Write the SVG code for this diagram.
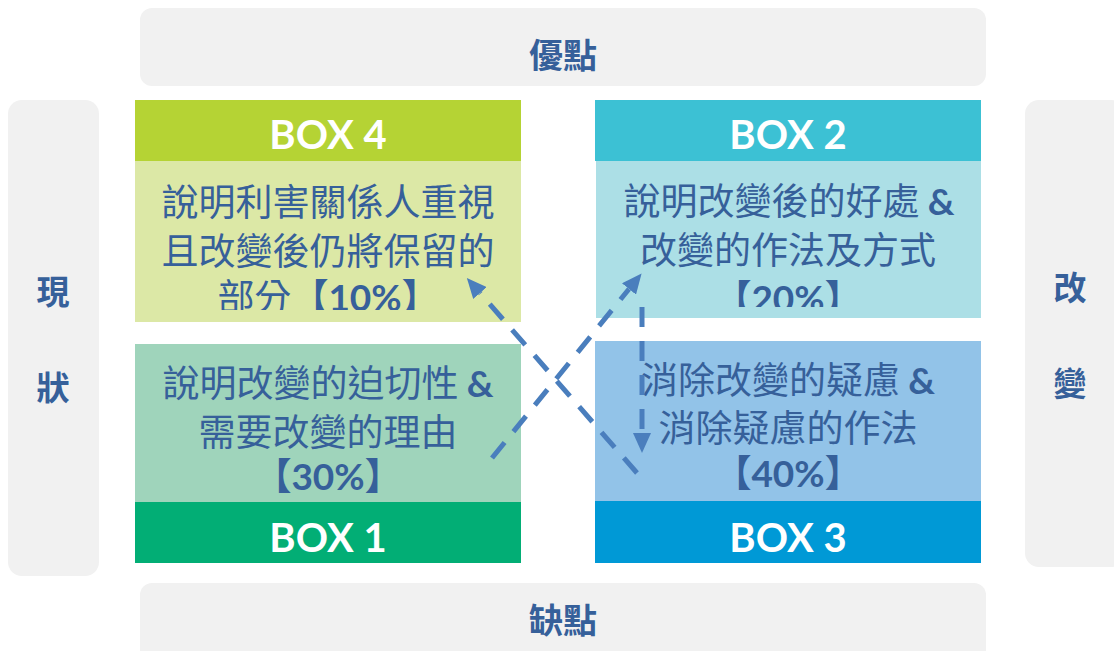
<svg xmlns="http://www.w3.org/2000/svg" width="1114" height="651" viewBox="0 0 1114 651">
<defs>
<style>
.bar{fill:#f1f1f1}
.side{font-family:"Noto Sans CJK TC","Noto Sans CJK SC",sans-serif;font-weight:700;font-size:33px;fill:#36609a;text-anchor:middle}
.hdr{font-family:Lato,"Open Sans","Liberation Sans",sans-serif;font-weight:700;font-size:40px;fill:#ffffff;text-anchor:middle}
.body{font-family:"Noto Sans CJK TC","Noto Sans CJK SC",sans-serif;font-weight:400;font-size:37px;fill:#36609a;text-anchor:middle}
.b{font-family:Lato,"Liberation Sans","Noto Sans CJK TC",sans-serif;font-weight:700}
.bk{font-family:"Noto Sans CJK TC",sans-serif;font-weight:700}
.arr{fill:none;stroke:#4a7ebd;stroke-width:5;stroke-dasharray:20 14;marker-end:url(#ah)}
</style>
<marker id="ah" viewBox="0 0 20 18" refX="0" refY="9" markerWidth="20" markerHeight="18" markerUnits="userSpaceOnUse" orient="auto">
<path d="M0,0 L20,9 L0,18 z" fill="#4a7ebd"/>
</marker>
<clipPath id="c4"><rect x="135" y="161" width="386" height="149"/></clipPath>
<clipPath id="c2"><rect x="595" y="161" width="386" height="146"/></clipPath>
</defs>
<rect width="1114" height="651" fill="#ffffff"/>
<g id="top"><rect class="bar" x="140" y="8" width="846" height="78" rx="12"/><text class="side" x="563" y="68" style="font-size:34px">優點</text></g>
<g id="bottom"><rect class="bar" x="140" y="583" width="846" height="80" rx="12"/><text class="side" x="563" y="633" style="font-size:34px">缺點</text></g>
<g id="left"><rect class="bar" x="8" y="100" width="91" height="476" rx="14"/><text class="side" x="53" y="304">現</text><text class="side" x="53" y="400">狀</text></g>
<g id="right"><rect class="bar" x="1025" y="100" width="100" height="467" rx="14"/><text class="side" x="1070" y="300">改</text><text class="side" x="1070" y="396">變</text></g>
<g id="box4">
<rect x="135" y="100" width="386" height="61" fill="#b5d334"/>
<rect x="135" y="161" width="386" height="161" fill="#dce8a6"/>
<text class="hdr" x="328" y="149">BOX 4</text>
<g clip-path="url(#c4)">
<text class="body" x="328" y="216">說明利害關係人重視</text>
<text class="body" x="328" y="265">且改變後仍將保留的</text>
<text class="body" x="328" y="311">部分<tspan class="bk">【</tspan><tspan class="b">10%</tspan><tspan class="bk">】</tspan></text>
</g>
</g>
<g id="box2">
<rect x="595" y="100" width="386" height="61" fill="#3cc1d4"/>
<rect x="596" y="161" width="385" height="157" fill="#acdfe6"/>
<text class="hdr" x="788" y="149">BOX 2</text>
<g clip-path="url(#c2)">
<text class="body" x="789" y="215">說明改變後的好處 <tspan class="b">&amp;</tspan></text>
<text class="body" x="788" y="264">改變的作法及方式</text>
<text class="body" x="788" y="312"><tspan class="bk">【</tspan><tspan class="b">20%</tspan><tspan class="bk">】</tspan></text>
</g>
</g>
<g id="box1">
<rect x="135" y="344" width="386" height="158" fill="#9fd4bb"/>
<rect x="135" y="502" width="386" height="61" fill="#02ae75"/>
<text class="hdr" x="328" y="552">BOX 1</text>
<text class="body" x="328" y="397">說明改變的迫切性 <tspan class="b">&amp;</tspan></text>
<text class="body" x="328" y="446">需要改變的理由</text>
<text class="body" x="328" y="490"><tspan class="bk">【</tspan><tspan class="b">30%</tspan><tspan class="bk">】</tspan></text>
</g>
<g id="box3">
<rect x="595" y="341" width="386" height="160" fill="#92c3e8"/>
<rect x="595" y="501" width="386" height="62" fill="#0099d6"/>
<text class="hdr" x="788" y="552">BOX 3</text>
<text class="body" x="788" y="394">消除改變的疑慮 <tspan class="b">&amp;</tspan></text>
<text class="body" x="788" y="442">消除疑慮的作法</text>
<text class="body" x="788" y="487"><tspan class="bk">【</tspan><tspan class="b">40%</tspan><tspan class="bk">】</tspan></text>
</g>
<g id="connectors">
<line class="arr" x1="637" y1="473" x2="480" y2="293"/>
<line class="arr" x1="492" y1="458" x2="629" y2="289"/>
<line class="arr" x1="642" y1="307" x2="642" y2="433"/>
</g>
</svg>
